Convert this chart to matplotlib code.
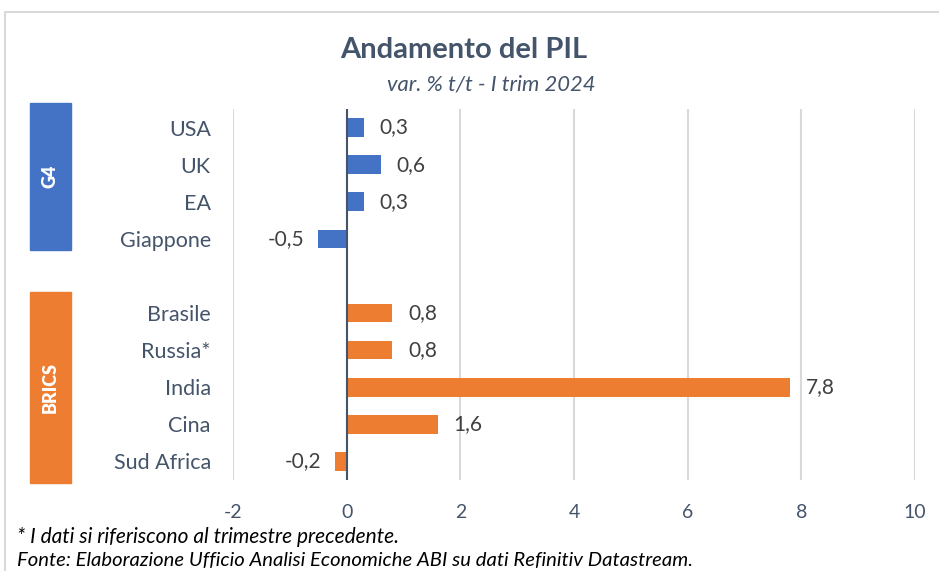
import matplotlib
matplotlib.use("Agg")
import matplotlib.pyplot as plt
from matplotlib.patches import Rectangle

plt.rcParams['font.family'] = ['Lato', 'DejaVu Sans']

categories = ["USA", "UK", "EA", "Giappone", "Brasile", "Russia*", "India", "Cina", "Sud Africa"]
values = [0.3, 0.6, 0.3, -0.5, 0.8, 0.8, 7.8, 1.6, -0.2]
groups = ["G4", "G4", "G4", "G4", "BRICS", "BRICS", "BRICS", "BRICS", "BRICS"]
value_labels = ["0,3", "0,6", "0,3", "-0,5", "0,8", "0,8", "7,8", "1,6", "-0,2"]
xticks = [-2, 0, 2, 4, 6, 8, 10]
group_names = ["G4", "BRICS"]

colors = {"G4": "#4472C4", "BRICS": "#ED7D31"}
W, H = 939, 571
fig = plt.figure(figsize=(W / 100, H / 100), dpi=100)

def fx(px):
    return px / W

def fy(py):
    return 1 - py / H

# outer frame
fig.patches.append(Rectangle((fx(5), fy(H + 5)), 1.0, fy(12) - fy(H + 5), transform=fig.transFigure,
                             fill=False, edgecolor="#D9D9D9", linewidth=1.5))

ax = fig.add_axes([fx(233), fy(480), fx(915) - fx(233), fy(109) - fy(480)])

# positions: G4 at 0..3, gap at 4, BRICS at 5..9
pos = []
p = 0
prev = groups[0]
for g in groups:
    if g != prev:
        p += 1
        prev = g
    pos.append(p)
    p += 1

for y, v, g, lab in zip(pos, values, groups, value_labels):
    ax.barh(y, v, height=0.5, color=colors[g], zorder=3)
    if v >= 0:
        ax.text(v + 0.28, y, lab, va="center", ha="left", fontsize=15, color="#404040")
    else:
        ax.text(v - 0.25, y, lab, va="center", ha="right", fontsize=15, color="#404040")

ax.set_xlim(-2, 10)
ax.set_ylim(9.5, -0.5)
ax.set_xticks(xticks)
ax.set_xticklabels([str(t) for t in xticks], fontsize=14, color="#44546A")
ax.set_yticks(pos)
ax.set_yticklabels(categories, fontsize=15.5, color="#44546A")
ax.tick_params(axis="both", length=0)
ax.tick_params(axis="y", pad=16)
ax.tick_params(axis="x", pad=17)
ax.grid(axis="x", color="#D9D9D9", linewidth=1.5, zorder=0)
for s in ax.spines.values():
    s.set_visible(False)
ax.axvline(0, color="#44546A", linewidth=1.5, zorder=4)

# group boxes
box_specs = {"G4": (103, 250), "BRICS": (292, 483)}
for gname in group_names:
    top, bot = box_specs[gname]
    fig.patches.append(Rectangle((fx(30), fy(bot)), fx(71) - fx(30), fy(top) - fy(bot),
                                 transform=fig.transFigure, color=colors[gname]))
    fig.text(fx(50.5), (fy(top) + fy(bot)) / 2, gname, rotation=90, ha="center", va="center",
             color="white", fontsize=13, fontweight="heavy")

fig.text(fx(464), fy(50), "Andamento del PIL", ha="center", va="center", fontsize=21,
         fontweight="bold", color="#44546A")
fig.text(fx(491), fy(85), "var. % t/t - I trim 2024", ha="center", va="center", fontsize=15.8,
         style="italic", color="#44546A")

fig.text(fx(17), fy(537), "* I dati si riferiscono al trimestre precedente.", ha="left", va="center",
         fontsize=15, style="italic", color="black")
fig.text(fx(17), fy(561), "Fonte: Elaborazione Ufficio Analisi Economiche ABI su dati Refinitiv Datastream.",
         ha="left", va="center", fontsize=14.6, style="italic", color="black")

fig.savefig("out.png", dpi=100)
